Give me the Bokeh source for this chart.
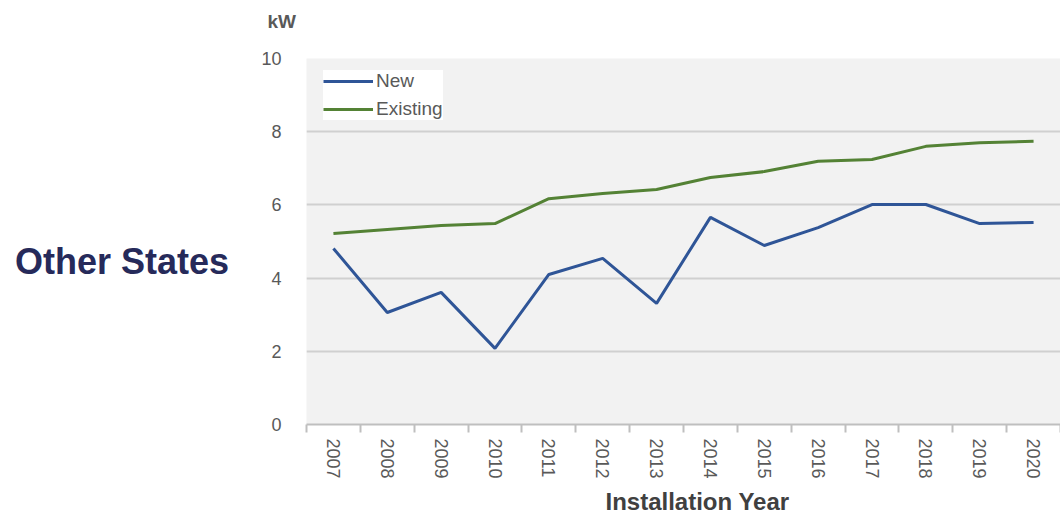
from bokeh.plotting import figure
from bokeh.layouts import row
from bokeh.models import FixedTicker, Legend, LegendItem, Range1d, Title, Div
from bokeh.embed import file_html
from bokeh.resources import INLINE

years = ["2007", "2008", "2009", "2010", "2011", "2012", "2013",
         "2014", "2015", "2016", "2017", "2018", "2019", "2020"]
new_kw = [4.81, 3.06, 3.61, 2.08, 4.10, 4.54, 3.31, 5.66, 4.89, 5.38, 6.01, 6.01, 5.49, 5.52]
existing_kw = [5.22, 5.33, 5.44, 5.49, 6.17, 6.31, 6.42, 6.75, 6.91, 7.19, 7.24, 7.60, 7.70, 7.74]
y_ticks = [0, 2, 4, 6, 8, 10]

xs = [i + 0.5 for i in range(len(years))]

DIV_W = 256
W, H = 1060 - DIV_W, 518
p = figure(width=W, height=H, output_backend="svg", toolbar_location=None,
           x_range=Range1d(0, len(years)), y_range=Range1d(0, 10),
           min_border_left=306 - DIV_W, min_border_right=0, min_border_top=58, min_border_bottom=94)
p.outline_line_color = None
p.background_fill_color = "#f2f2f2"
p.border_fill_color = "white"
p.margin = 0

# x axis
p.xaxis.ticker = FixedTicker(ticks=xs, minor_ticks=list(range(len(years) + 1)))
p.xaxis.major_label_overrides = {x: y for x, y in zip(xs, years)}
p.xaxis.major_label_orientation = "vertical"
p.xaxis.major_tick_line_color = None
p.xaxis.major_tick_out = 0
p.xaxis.major_tick_in = 0
p.xaxis.minor_tick_out = 8
p.xaxis.minor_tick_in = 0
p.xaxis.minor_tick_line_color = "#bfbfbf"
p.xaxis.minor_tick_line_width = 2
p.xaxis.axis_line_color = "#bfbfbf"
p.xaxis.axis_line_width = 2
p.xaxis.major_label_standoff = 6
p.xaxis.major_label_text_font = "Liberation Sans"
p.xaxis.major_label_text_font_size = "18px"
p.xaxis.major_label_text_color = "#595959"
p.xgrid.grid_line_color = None

# y axis
p.yaxis.ticker = FixedTicker(ticks=y_ticks)
p.yaxis.axis_line_color = None
p.yaxis.major_tick_line_color = None
p.yaxis.minor_tick_line_color = None
p.yaxis.major_label_standoff = 19
p.yaxis.major_label_text_font = "Liberation Sans"
p.yaxis.major_label_text_font_size = "18px"
p.yaxis.major_label_text_color = "#595959"
p.ygrid.grid_line_color = "#d0d0d0"
p.ygrid.grid_line_width = 2

r_new = p.line(xs, new_kw, line_color="#2f5597", line_width=3)
r_ex = p.line(xs, existing_kw, line_color="#548235", line_width=3)

legend = Legend(items=[LegendItem(label="New", renderers=[r_new]),
                       LegendItem(label="Existing", renderers=[r_ex])],
                location=(17, 304), padding=11, spacing=6, margin=0,
                glyph_width=50, glyph_height=18, label_height=18, label_standoff=3,
                label_text_font="Liberation Sans", label_text_font_size="19px",
                label_text_color="#595959",
                background_fill_color="white", background_fill_alpha=1,
                border_line_color=None)
p.add_layout(legend)

# spacer panel next to the frame, then the unit label above it
p.add_layout(Title(text=" ", standoff=4, text_font="Liberation Sans", text_font_size="19px"), "above")
p.add_layout(Title(text="kW", align="left", offset=-39, standoff=0,
                   text_font="Liberation Sans", text_font_style="bold", text_font_size="19px",
                   text_color="#595959"), "above")
p.add_layout(Title(text="Installation Year", align="left", offset=299, standoff=8,
                   text_font="Liberation Sans", text_font_style="bold", text_font_size="24px",
                   text_color="#404040"), "below")

side = Div(width=DIV_W, height=H, margin=0,
           text="<div style=\"padding:241px 0 0 15px; font-family:'Liberation Sans', Arial, sans-serif; "
                "font-weight:bold; font-size:36px; line-height:42px; color:#262a5a; white-space:nowrap;\">"
                "Other States</div>")

layout = row(side, p)
open("out.html", "w").write(file_html(layout, INLINE))
